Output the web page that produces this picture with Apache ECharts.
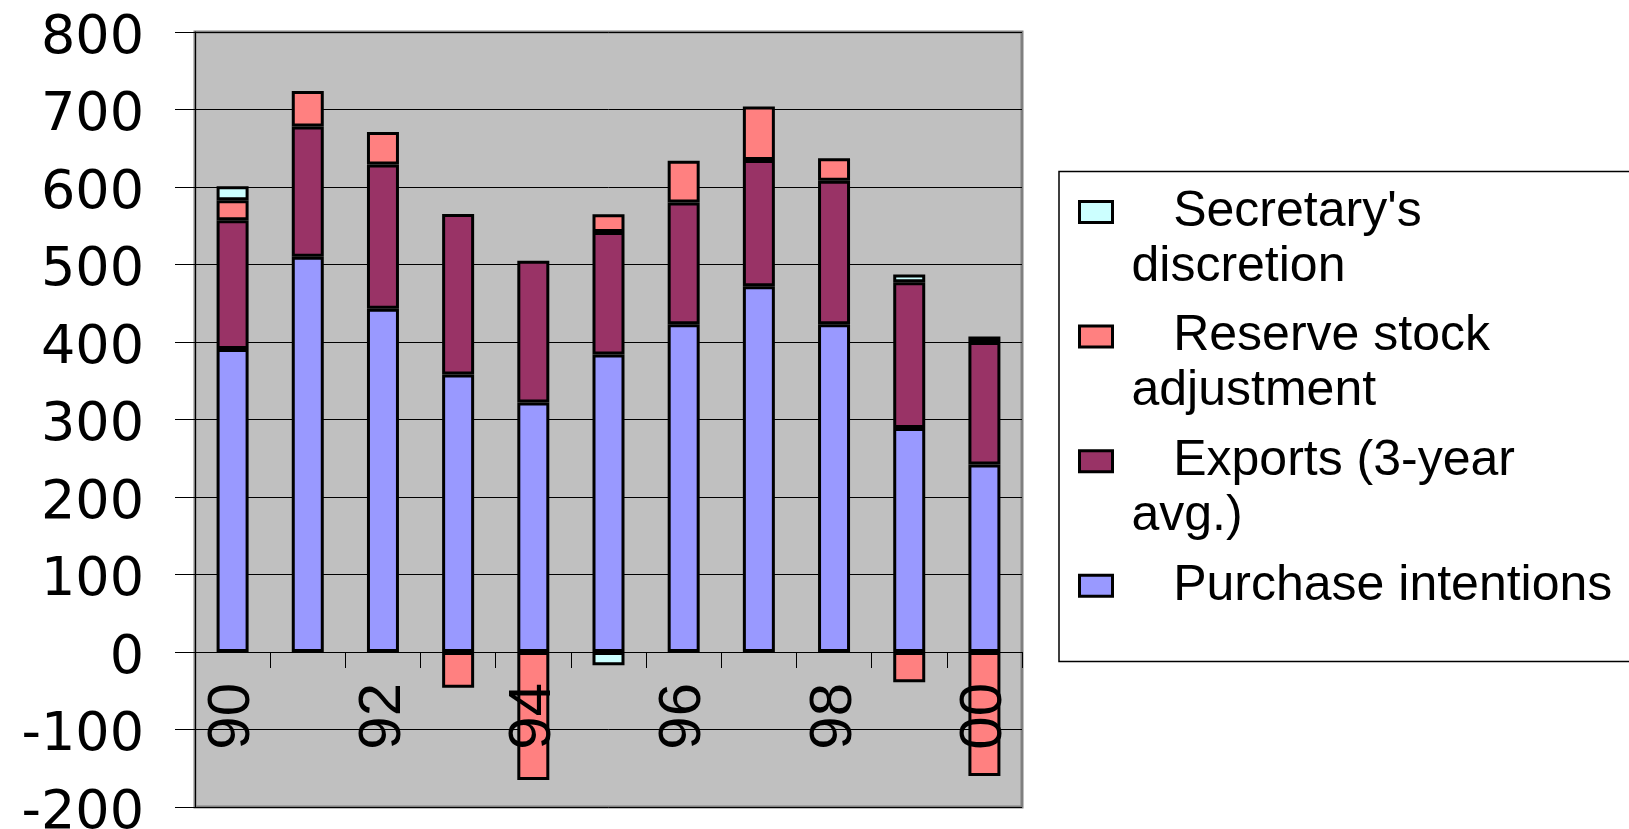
<!DOCTYPE html>
<html>
<head>
<meta charset="utf-8">
<script src="https://cdn.jsdelivr.net/npm/echarts@6/dist/echarts.min.js"></script>
<style>
html,body{margin:0;padding:0;background:#fff;}
#main{width:1629px;height:829px;}
</style>
</head>
<body>
<div id="main"></div>
<script>
const categories = ['90','91','92','93','94','95','96','97','98','99','00'];
const purchaseIntentions = [391, 510, 443, 358, 322, 384, 423, 472, 423, 289, 242];
const exportsAvg = [166, 168, 186, 207, 183, 158, 157, 163, 185, 188, 158];
const reserveStock = [26, 46, 42, -46, -165, 23, 54, 69, 29, -39, -160];
const secretaryDiscretion = [18, null, null, null, null, -17, null, null, null, 10, 7];
const yTicks = [-200, -100, 0, 100, 200, 300, 400, 500, 600, 700, 800];

const names = {
  sec: "Secretary's discretion",
  res: "Reserve stock adjustment",
  exp: "Exports (3-year avg.)",
  pur: "Purchase intentions"
};
const legendText = {};
legendText[names.sec] = "   Secretary's\ndiscretion";
legendText[names.res] = "   Reserve stock\nadjustment";
legendText[names.exp] = "   Exports (3-year\navg.)";
legendText[names.pur] = "   Purchase intentions\n ";

// legend swatch: 33x21 square aligned with first text line of a 110px tall item
const swatchIcon = 'path://M0,0M0,17h33v21h-33zM0,110';

const chart = echarts.init(document.getElementById('main'));
function mk(name, data, color) {
  return {
    type: 'bar',
    stack: 'total',
    barWidth: 32,
    name: name,
    data: data,
    itemStyle: { color: color, borderColor: '#000', borderWidth: 3 }
  };
}
chart.setOption({
  animation: false,
  backgroundColor: '#fff',
  graphic: [{
    type: 'rect',
    z: -1,
    shape: { x: 1059, y: 171.5, width: 700, height: 490 },
    style: { fill: '#fff', stroke: '#000', lineWidth: 1.5 }
  }],
  grid: {
    left: 195, right: 607, top: 32, bottom: 22,
    outerBoundsMode: 'none',
    containLabel: false,
    show: true,
    backgroundColor: '#C0C0C0',
    borderColor: '#808080',
    borderWidth: 3
  },
  legend: {
    orient: 'vertical',
    left: 1078,
    top: 183,
    padding: 0,
    itemGap: 11.6,
    itemWidth: 33,
    itemHeight: 110,
    icon: swatchIcon,
    selectedMode: false,
    itemStyle: { borderColor: '#000', borderWidth: 3 },
    formatter: function (n) { return legendText[n]; },
    textStyle: {
      fontFamily: 'Liberation Sans',
      fontSize: 50,
      lineHeight: 55,
      color: '#000',
      padding: [0, 0, 0, 14]
    },
    data: [names.sec, names.res, names.exp, names.pur]
  },
  xAxis: {
    type: 'category',
    z: 10,
    data: categories,
    boundaryGap: true,
    axisLine: { onZero: true, lineStyle: { color: '#000', width: 1 } },
    axisTick: { show: true, interval: 0, length: 16, lineStyle: { color: '#000', width: 1 } },
    axisLabel: {
      interval: 1,
      rotate: 90,
      margin: -124,
      fontFamily: 'Liberation Sans',
      fontSize: 60,
      color: '#000'
    },
    splitLine: { show: false }
  },
  yAxis: {
    type: 'value',
    min: yTicks[0],
    max: yTicks[yTicks.length - 1],
    interval: 100,
    axisLine: { show: true, lineStyle: { color: '#000', width: 1 } },
    axisTick: { show: true, length: 20, lineStyle: { color: '#000', width: 1 } },
    axisLabel: {
      margin: 51,
      fontFamily: 'DejaVu Sans',
      fontSize: 54,
      verticalAlign: 'top',
      lineHeight: 13,
      color: '#000'
    },
    splitLine: { show: true, lineStyle: { color: '#000', width: 1 } }
  },
  series: [
    mk(names.pur, purchaseIntentions, '#9999FF'),
    mk(names.exp, exportsAvg, '#993366'),
    mk(names.res, reserveStock, '#FF8080'),
    mk(names.sec, secretaryDiscretion, '#CCFFFF')
  ]
});
</script>
</body>
</html>
